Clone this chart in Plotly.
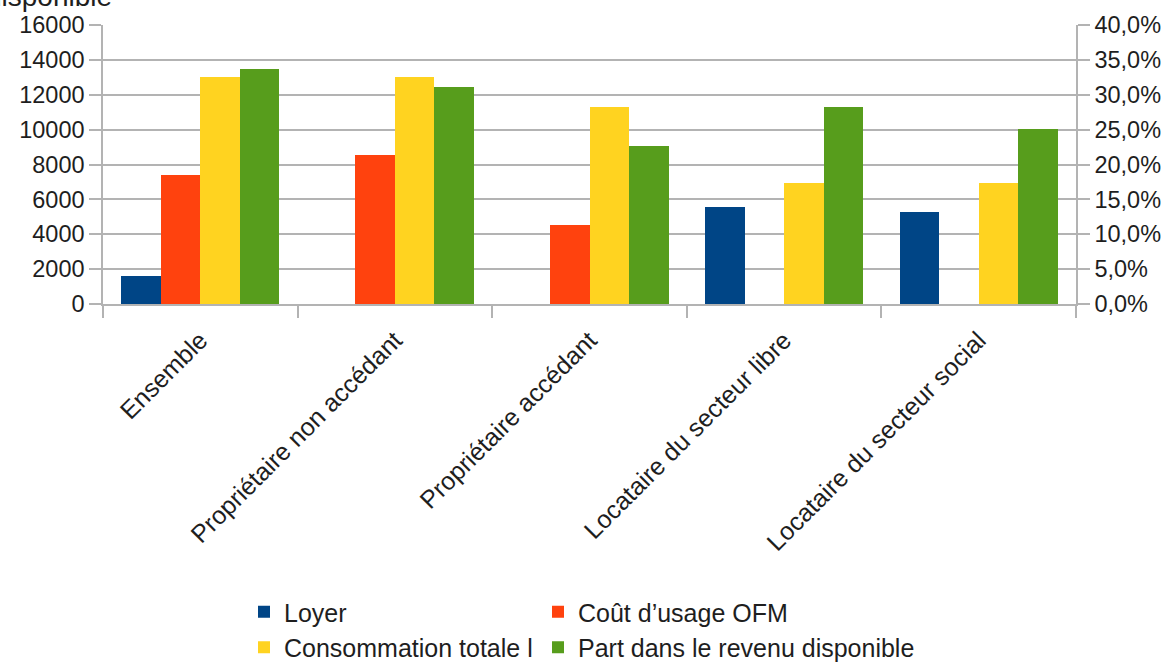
import plotly.graph_objects as go

# Household categories and housing-cost series
categories = [
    "Ensemble",
    "Propriétaire non accédant",
    "Propriétaire accédant",
    "Locataire du secteur libre",
    "Locataire du secteur social",
]
loyer = [1600, None, None, 5580, 5260]
cout_usage_ofm = [7400, 8560, 4530, None, None]
consommation_totale = [13000, 13000, 11300, 6950, 6950]
part_revenu = [0.337, 0.311, 0.226, 0.283, 0.251]

series_names = ["Loyer", "Coût d’usage OFM", "Consommation totale l",
                "Part dans le revenu disponible"]
colors = ["#004586", "#ff420e", "#ffd320", "#579d1c"]

GRID = "#b3b3b3"
TXT = "#1e1e1e"
FONT = "Liberation Sans, Arial, sans-serif"

bar_w = 0.203
offsets = [-2 * bar_w, -bar_w, 0.0, bar_w]
legend_ids = ["legend", "legend2", "legend", "legend2"]
values = [loyer, cout_usage_ofm, consommation_totale, part_revenu]

fig = go.Figure()
for i, (name, vals) in enumerate(zip(series_names, values)):
    fig.add_trace(go.Bar(
        x=categories,
        y=vals,
        name=name,
        marker=dict(color=colors[i], line=dict(width=0)),
        width=bar_w,
        offset=offsets[i],
        yaxis="y2" if i == 3 else "y",
        legend=legend_ids[i],
        legendgroup=name,
    ))

tick_font = dict(family=FONT, size=23.5, color=TXT)
cat_font = dict(family=FONT, size=25, color=TXT)
legend_font = dict(family=FONT, size=25, color=TXT)

# legends are placed in container coordinates so they do not shrink the plot
legend_top = 1 - 589 / 663

fig.update_layout(
    width=1171,
    height=663,
    margin=dict(l=103, r=95, t=25, b=359),
    paper_bgcolor="white",
    plot_bgcolor="white",
    separators=", ",
    font=dict(family=FONT, color=TXT),
    xaxis=dict(
        type="category",
        tickson="boundaries",
        ticks="outside",
        ticklen=12,
        tickcolor=GRID,
        tickwidth=1.5,
        tickangle=-45,
        tickfont=cat_font,
        ticklabelstandoff=10,
        showline=True,
        linecolor=GRID,
        linewidth=1.5,
        showgrid=False,
        automargin=False,
    ),
    yaxis=dict(
        range=[0, 16000],
        dtick=2000,
        tickformat="d",
        ticks="outside",
        ticklen=12,
        tickcolor=GRID,
        tickwidth=1.5,
        tickfont=tick_font,
        showline=True,
        linecolor=GRID,
        linewidth=1.5,
        showgrid=True,
        gridcolor=GRID,
        gridwidth=1.5,
        zeroline=False,
        automargin=False,
    ),
    yaxis2=dict(
        overlaying="y",
        side="right",
        range=[0, 0.4],
        dtick=0.05,
        tickformat=".1%",
        ticks="outside",
        ticklen=12,
        tickcolor=GRID,
        tickwidth=1.5,
        tickfont=tick_font,
        showline=True,
        linecolor=GRID,
        linewidth=1.5,
        showgrid=False,
        zeroline=False,
        automargin=False,
    ),
    legend=dict(
        x=(244 - 103) / 973, xanchor="left", xref="paper",
        y=legend_top, yanchor="top", yref="container",
        orientation="v",
        font=legend_font,
        bgcolor="rgba(0,0,0,0)",
        tracegroupgap=0,
    ),
    legend2=dict(
        x=(538 - 103) / 973, xanchor="left", xref="paper",
        y=legend_top, yanchor="top", yref="container",
        orientation="v",
        font=legend_font,
        bgcolor="rgba(0,0,0,0)",
        tracegroupgap=0,
    ),
    bargap=0,
    annotations=[dict(
        text="disponible",
        xref="paper", yref="paper",
        x=-119 / 973, xanchor="left",
        y=1 + 20 / 279, yanchor="bottom",
        showarrow=False,
        font=dict(family=FONT, size=28, color=TXT),
        yshift=-9,
    )],
)

fig.write_html("out.html")
